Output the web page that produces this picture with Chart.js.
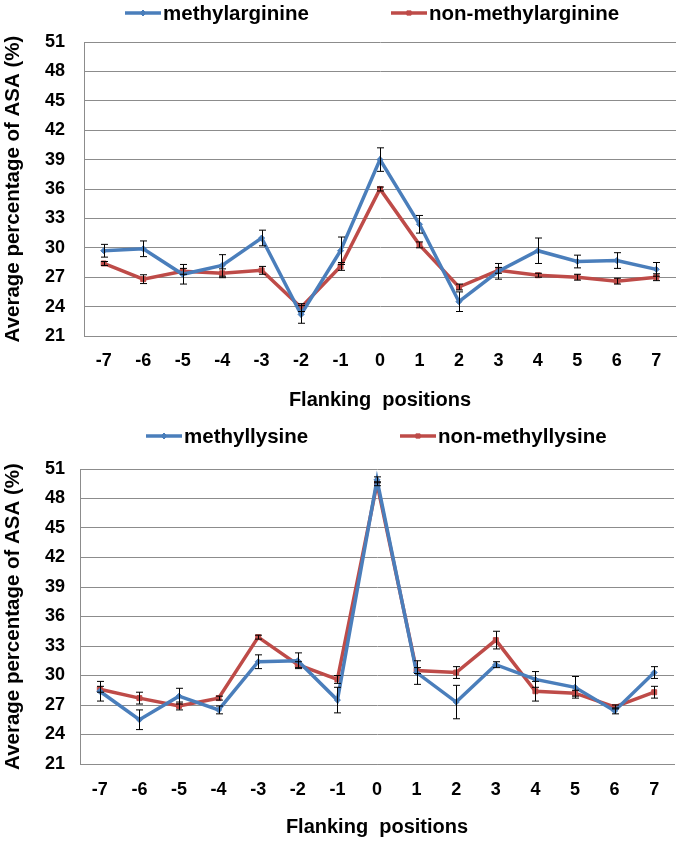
<!DOCTYPE html>
<html>
<head>
<meta charset="utf-8">
<script src="https://cdn.jsdelivr.net/npm/chart.js@4.4.1/dist/chart.umd.min.js"></script>
<style>
  html, body { margin: 0; padding: 0; background: #fff; }
  .panel { width: 681px; height: 421px; position: relative; }
</style>
</head>
<body>
<div class="panel"><canvas id="chart-arg" width="681" height="421"></canvas></div>
<div class="panel"><canvas id="chart-lys" width="681" height="421"></canvas></div>
<script>
const positions = ["-7", "-6", "-5", "-4", "-3", "-2", "-1", "0", "1", "2", "3", "4", "5", "6", "7"];
const yTicks = [21, 24, 27, 30, 33, 36, 39, 42, 45, 48, 51];

// methylarginine panel
const methylArg = [29.7, 29.9, 27.3, 28.2, 31.0, 23.2, 29.7, 39.0, 32.4, 24.5, 27.6, 29.7, 28.6, 28.7, 27.8];
const methylArgErr = [0.65, 0.8, 1.0, 1.1, 0.8, 0.9, 1.4, 1.2, 0.9, 1.0, 0.8, 1.3, 0.65, 0.8, 0.7];
const nonMethylArg = [28.4, 26.8, 27.6, 27.4, 27.7, 23.9, 28.1, 36.0, 30.3, 26.0, 27.7, 27.2, 27.0, 26.6, 27.0];
const nonMethylArgErr = [0.2, 0.45, 0.3, 0.45, 0.4, 0.4, 0.4, 0.2, 0.3, 0.3, 0.3, 0.2, 0.3, 0.3, 0.35];

// methyllysine panel
const methylLys = [28.4, 25.5, 27.9, 26.5, 31.4, 31.5, 27.5, 49.9, 30.3, 27.3, 31.1, 29.6, 28.8, 26.4, 30.3];
const methylLysErr = [1.0, 1.0, 0.8, 0.4, 0.7, 0.8, 1.3, 0.3, 1.2, 1.7, 0.3, 0.8, 1.1, 0.3, 0.6];
const nonMethylLys = [28.6, 27.7, 26.9, 27.7, 33.9, 31.1, 29.6, 49.5, 30.5, 30.3, 33.6, 28.4, 28.2, 26.8, 28.3];
const nonMethylLysErr = [0.3, 0.6, 0.4, 0.2, 0.2, 0.3, 0.4, 0.2, 0.3, 0.6, 0.9, 1.0, 0.3, 0.2, 0.6];

const palette = {
  blue: "#4a7ebb",
  red: "#be4b48",
  grid: "#8c8c8c",
  text: "#000000"
};
const fontFamily = "'Liberation Sans', Arial, sans-serif";

// vertical error bars with small caps, read from dataset.errors
const errorBars = {
  id: "errorBars",
  afterDatasetsDraw(chart) {
    const { ctx, scales: { x, y } } = chart;
    ctx.save();
    ctx.strokeStyle = "#000";
    ctx.lineWidth = 1;
    chart.data.datasets.forEach((ds) => {
      ds.errors.forEach((e, j) => {
        const px = Math.round(x.getPixelForValue(j)) + 0.5;
        const top = y.getPixelForValue(ds.data[j] + e);
        const bot = y.getPixelForValue(ds.data[j] - e);
        ctx.beginPath();
        ctx.moveTo(px, top);
        ctx.lineTo(px, bot);
        ctx.moveTo(px - 3.5, top);
        ctx.lineTo(px + 3.5, top);
        ctx.moveTo(px - 3.5, bot);
        ctx.lineTo(px + 3.5, bot);
        ctx.stroke();
      });
    });
    ctx.restore();
  }
};

// legend: line with marker, then label
const lineLegend = {
  id: "lineLegend",
  afterDraw(chart, args, opts) {
    const ctx = chart.ctx;
    ctx.save();
    chart.data.datasets.forEach((ds, i) => {
      const x0 = opts.x[i];
      ctx.strokeStyle = ds.borderColor;
      ctx.fillStyle = ds.borderColor;
      ctx.lineWidth = 3.5;
      ctx.beginPath();
      ctx.moveTo(x0, opts.y);
      ctx.lineTo(x0 + 36, opts.y);
      ctx.stroke();
      ctx.lineWidth = 1;
      Chart.helpers.drawPoint(ctx, { pointStyle: ds.pointStyle, radius: 3, borderWidth: 1, rotation: 0 }, x0 + 18, opts.y);
      ctx.fillStyle = palette.text;
      ctx.font = `bold 20.5px ${fontFamily}`;
      ctx.textBaseline = "middle";
      ctx.textAlign = "left";
      ctx.fillText(ds.label, x0 + 38, opts.y + 1);
    });
    ctx.restore();
  }
};

function renderPanel(id, names, series, errors, geom) {
  const ctx = document.getElementById(id);
  new Chart(ctx, {
    type: "line",
    data: {
      labels: positions,
      datasets: [
        {
          label: names[0],
          data: series[0],
          errors: errors[0],
          borderColor: palette.blue,
          backgroundColor: palette.blue,
          borderWidth: 3.5,
          pointStyle: "rectRot",
          pointRadius: 3,
          pointBorderWidth: 1,
          tension: 0
        },
        {
          label: names[1],
          data: series[1],
          errors: errors[1],
          borderColor: palette.red,
          backgroundColor: palette.red,
          borderWidth: 3.5,
          pointStyle: "rect",
          pointRadius: 3.5,
          pointBorderWidth: 1,
          tension: 0
        }
      ]
    },
    options: {
      responsive: false,
      animation: false,
      devicePixelRatio: 1,
      layout: { padding: { top: geom.top, right: geom.right, left: 0, bottom: 0 } },
      plugins: {
        legend: { display: false },
        tooltip: { enabled: false },
        lineLegend: { x: geom.legendX, y: geom.legendY }
      },
      scales: {
        x: {
          offset: true,
          grid: { display: false, drawTicks: false },
          border: { display: true, color: palette.grid, width: 1 },
          ticks: {
            padding: geom.xTickPad,
            color: palette.text,
            font: { family: fontFamily, size: 18, weight: "bold" },
            maxRotation: 0
          },
          title: {
            display: true,
            text: "Flanking  positions",
            color: palette.text,
            font: { family: fontFamily, size: 20, weight: "bold" },
            padding: { top: 0, bottom: geom.xTitlePad }
          },
          afterFit: (s) => { s.height = geom.xHeight; }
        },
        y: {
          min: 21,
          max: 51,
          afterBuildTicks: (s) => { s.ticks = yTicks.map((v) => ({ value: v })); },
          grid: { color: palette.grid, lineWidth: 1, drawTicks: false },
          border: { display: true, color: palette.grid, width: 1 },
          ticks: {
            padding: geom.yTickPad,
            color: palette.text,
            font: { family: fontFamily, size: 18, weight: "bold" }
          },
          title: {
            display: true,
            text: "Average percentage of ASA (%)",
            color: palette.text,
            font: { family: fontFamily, size: 20.5, weight: "bold" },
            padding: { top: 1, bottom: 0 }
          },
          afterFit: (s) => { s.width = geom.yWidth; }
        }
      }
    },
    plugins: [errorBars, lineLegend]
  });
}

renderPanel(
  "chart-arg",
  ["methylarginine", "non-methylarginine"],
  [methylArg, nonMethylArg],
  [methylArgErr, nonMethylArgErr],
  { top: 42, right: 4, yWidth: 84, yTickPad: 19, xHeight: 85, xTickPad: 14, xTitlePad: 9, legendX: [125, 391], legendY: 13 }
);

renderPanel(
  "chart-lys",
  ["methyllysine", "non-methyllysine"],
  [methylLys, nonMethylLys],
  [methylLysErr, nonMethylLysErr],
  { top: 48, right: 7, yWidth: 80, yTickPad: 15, xHeight: 78, xTickPad: 15, xTitlePad: 3, legendX: [146, 400], legendY: 15 }
);
</script>
</body>
</html>
